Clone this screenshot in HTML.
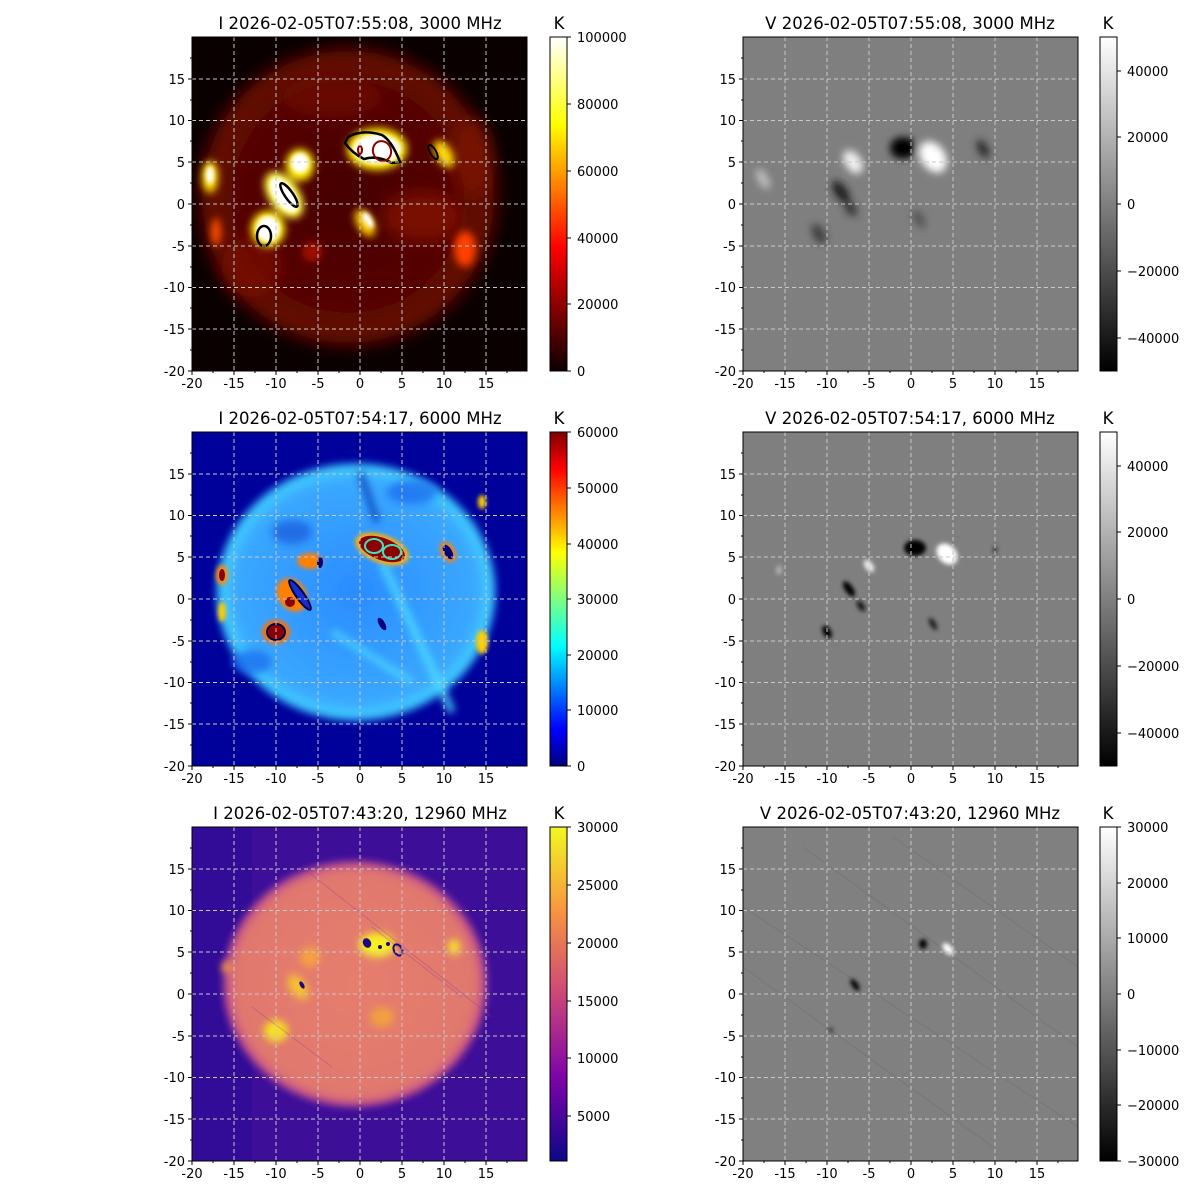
<!DOCTYPE html>
<html><head><meta charset="utf-8"><style>
html,body{margin:0;padding:0;background:#fff;}
svg{display:block;font-family:"DejaVu Sans","Liberation Sans",sans-serif;}
.t{font-size:13px;fill:#000;}
.ti{font-size:16.5px;fill:#000;}
.g line{stroke:#c8c8c8;stroke-width:1;stroke-dasharray:4,3;}
</style></head><body>
<svg width="1200" height="1200" viewBox="0 0 1200 1200" xmlns="http://www.w3.org/2000/svg">
<defs>
<filter id="b2"><feGaussianBlur stdDeviation="2"/></filter>
<filter id="b4"><feGaussianBlur stdDeviation="4"/></filter>
<filter id="b8"><feGaussianBlur stdDeviation="8"/></filter>
<radialGradient id="d1"><stop offset="0" stop-color="#480200"/><stop offset="0.75" stop-color="#560600"/><stop offset="0.95" stop-color="#6a0a00"/><stop offset="1" stop-color="#3a0200"/></radialGradient>
<radialGradient id="d2"><stop offset="0" stop-color="#2a8cff"/><stop offset="0.85" stop-color="#3aa8ff"/><stop offset="0.96" stop-color="#40d0ff"/><stop offset="1" stop-color="#0010c0"/></radialGradient>
<radialGradient id="d3"><stop offset="0" stop-color="#e67e6c"/><stop offset="0.9" stop-color="#e0786e"/><stop offset="0.97" stop-color="#c8508a"/><stop offset="1" stop-color="#3e0c9c"/></radialGradient>
<linearGradient id="cHot" x1="0" y1="1" x2="0" y2="0"><stop offset="0" stop-color="#0b0000"/><stop offset="0.37" stop-color="#ff0000"/><stop offset="0.74" stop-color="#ffff00"/><stop offset="1" stop-color="#ffffff"/></linearGradient>
<linearGradient id="cJet" x1="0" y1="1" x2="0" y2="0"><stop offset="0" stop-color="#00007f"/><stop offset="0.11" stop-color="#0000ff"/><stop offset="0.36" stop-color="#00ffff"/><stop offset="0.5" stop-color="#7fff7f"/><stop offset="0.64" stop-color="#ffff00"/><stop offset="0.89" stop-color="#ff0000"/><stop offset="1" stop-color="#7f0000"/></linearGradient>
<linearGradient id="cPl" x1="0" y1="1" x2="0" y2="0"><stop offset="0" stop-color="#0d0887"/><stop offset="0.25" stop-color="#7e03a8"/><stop offset="0.5" stop-color="#cc4778"/><stop offset="0.75" stop-color="#f89540"/><stop offset="1" stop-color="#f0f921"/></linearGradient>
<linearGradient id="cGr" x1="0" y1="1" x2="0" y2="0"><stop offset="0" stop-color="#000"/><stop offset="1" stop-color="#fff"/></linearGradient>
<g id="grid" class="g">
<line x1="42" y1="0" x2="42" y2="334"/><line x1="84" y1="0" x2="84" y2="334"/><line x1="126" y1="0" x2="126" y2="334"/><line x1="168" y1="0" x2="168" y2="334"/><line x1="210" y1="0" x2="210" y2="334"/><line x1="252" y1="0" x2="252" y2="334"/><line x1="294" y1="0" x2="294" y2="334"/>
<line x1="0" y1="42" x2="335" y2="42"/><line x1="0" y1="83.5" x2="335" y2="83.5"/><line x1="0" y1="125" x2="335" y2="125"/><line x1="0" y1="167" x2="335" y2="167"/><line x1="0" y1="209" x2="335" y2="209"/><line x1="0" y1="250.5" x2="335" y2="250.5"/><line x1="0" y1="292" x2="335" y2="292"/>
</g>
<g id="ax">
<rect x="0" y="0" width="335" height="334" fill="none" stroke="#000" stroke-width="1"/>
<path d="M0 334v4M42 334v4M84 334v4M126 334v4M168 334v4M210 334v4M252 334v4M294 334v4M0 42h-4M0 83.5h-4M0 125h-4M0 167h-4M0 209h-4M0 250.5h-4M0 292h-4M0 334h-4" stroke="#000"/>
<path d="M21 334v2M63 334v2M105 334v2M147 334v2M189 334v2M231 334v2M273 334v2M315 334v2M0 21h-2M0 63h-2M0 104h-2M0 146h-2M0 188h-2M0 230h-2M0 271h-2M0 313h-2" stroke="#000"/>
<g class="t" text-anchor="middle">
<text x="0" y="351">-20</text><text x="42" y="351">-15</text><text x="84" y="351">-10</text><text x="126" y="351">-5</text><text x="168" y="351">0</text><text x="210" y="351">5</text><text x="252" y="351">10</text><text x="294" y="351">15</text>
</g>
<g class="t" text-anchor="end">
<text x="-7" y="47">15</text><text x="-7" y="88">10</text><text x="-7" y="130">5</text><text x="-7" y="172">0</text><text x="-7" y="214">-5</text><text x="-7" y="255">-10</text><text x="-7" y="297">-15</text><text x="-7" y="339">-20</text>
</g>
</g>
</defs>

<!-- ROW 1 I -->
<text class="ti" x="360" y="29" text-anchor="middle">I 2026-02-05T07:55:08, 3000 MHz</text>
<svg x="192" y="37" width="335" height="334">
<rect width="335" height="334" fill="#0a0000"/>
<ellipse cx="156" cy="160" rx="150" ry="150" fill="url(#d1)" filter="url(#b8)"/>
<g filter="url(#b8)" opacity="0.7">
<ellipse cx="230" cy="180" rx="40" ry="25" fill="#8a1400"/>
<ellipse cx="60" cy="230" rx="30" ry="30" fill="#7a1000"/>
<ellipse cx="140" cy="60" rx="50" ry="20" fill="#701000"/>
<ellipse cx="280" cy="120" rx="20" ry="40" fill="#801200"/>
</g>
<g filter="url(#b4)">
<ellipse cx="185" cy="112" rx="30" ry="21" fill="#ffee00"/>
<ellipse cx="252" cy="117" rx="8" ry="15" fill="#ffdd00" transform="rotate(-30 252 117)"/>
<ellipse cx="18" cy="140" rx="8" ry="16" fill="#ffdd00"/>
<ellipse cx="108" cy="128" rx="14" ry="16" fill="#ffee00"/>
<ellipse cx="92" cy="158" rx="15" ry="26" fill="#ffff40" transform="rotate(-35 92 158)"/>
<ellipse cx="76" cy="192" rx="17" ry="18" fill="#ffee00"/>
<ellipse cx="173" cy="186" rx="8" ry="15" fill="#ffcc00" transform="rotate(-30 173 186)"/>
<ellipse cx="24" cy="195" rx="5" ry="14" fill="#ff5000"/>
<ellipse cx="273" cy="212" rx="11" ry="18" fill="#ff4000"/>
<ellipse cx="120" cy="215" rx="10" ry="10" fill="#a01000"/>
</g>
<g filter="url(#b2)">
<ellipse cx="185" cy="112" rx="24" ry="15" fill="#fff"/>
<ellipse cx="108" cy="126" rx="9" ry="10" fill="#fff"/>
<ellipse cx="92" cy="158" rx="10" ry="20" fill="#fff" transform="rotate(-35 92 158)"/>
<ellipse cx="76" cy="192" rx="12" ry="13" fill="#fff"/>
<ellipse cx="176" cy="183" rx="4" ry="9" fill="#fff" transform="rotate(-30 176 183)"/>
<ellipse cx="18" cy="138" rx="4" ry="9" fill="#fff"/>
</g>
<path d="M156 100 Q170 92 190 98 Q200 104 208 125 L200 126 Q185 118 172 122 Q160 116 153 106Z" fill="none" stroke="#000" stroke-width="2.5"/>
<ellipse cx="190" cy="114" rx="9" ry="10" fill="none" stroke="#8b0000" stroke-width="2" transform="rotate(-20 190 114)"/>
<ellipse cx="168" cy="113" rx="2" ry="4" fill="none" stroke="#8b0000" stroke-width="2"/>
<ellipse cx="97" cy="158" rx="4" ry="14" fill="none" stroke="#000" stroke-width="2.5" transform="rotate(-35 97 158)"/>
<ellipse cx="72" cy="199" rx="7" ry="10" fill="none" stroke="#000" stroke-width="2.5"/>
<ellipse cx="241" cy="115" rx="3" ry="8" fill="none" stroke="#000" stroke-width="2" transform="rotate(-30 241 115)"/>
<use href="#grid"/>
</svg>
<use href="#ax" x="192" y="37"/>
<rect x="550" y="37" width="17" height="334" fill="url(#cHot)" stroke="#000"/>
<text class="ti" x="559" y="29" text-anchor="middle">K</text>
<g class="t"><path d="M567 371h4M567 304h4M567 238h4M567 171h4M567 104h4M567 37h4" stroke="#000"/>
<text x="577" y="376">0</text><text x="577" y="309">20000</text><text x="577" y="243">40000</text><text x="577" y="176">60000</text><text x="577" y="109">80000</text><text x="577" y="42">100000</text></g>

<!-- ROW 1 V -->
<text class="ti" x="910" y="29" text-anchor="middle">V 2026-02-05T07:55:08, 3000 MHz</text>
<svg x="743" y="37" width="335" height="334">
<rect width="335" height="334" fill="#7f7f7f"/>
<g filter="url(#b4)">
<ellipse cx="160" cy="111" rx="13" ry="11" fill="#000"/>
<ellipse cx="190" cy="120" rx="12" ry="17" fill="#fff" transform="rotate(-35 190 120)"/>
<ellipse cx="240" cy="112" rx="5" ry="10" fill="#2a2a2a" transform="rotate(-30 240 112)"/>
<ellipse cx="20" cy="142" rx="5" ry="11" fill="#c0c0c0" transform="rotate(-30 20 142)"/>
<ellipse cx="110" cy="125" rx="8" ry="13" fill="#f0f0f0" transform="rotate(-35 110 125)"/>
<ellipse cx="98" cy="155" rx="6" ry="13" fill="#1a1a1a" transform="rotate(-35 98 155)"/>
<ellipse cx="108" cy="172" rx="5" ry="8" fill="#303030" transform="rotate(-35 108 172)"/>
<ellipse cx="76" cy="197" rx="6" ry="11" fill="#404040" transform="rotate(-30 76 197)"/>
<ellipse cx="176" cy="182" rx="5" ry="10" fill="#555" transform="rotate(-30 176 182)"/>
</g>
<use href="#grid"/>
</svg>
<use href="#ax" x="743" y="37"/>
<rect x="1100" y="37" width="17" height="334" fill="url(#cGr)" stroke="#000"/>
<text class="ti" x="1108" y="29" text-anchor="middle">K</text>
<g class="t"><path d="M1117 338h4M1117 271h4M1117 204h4M1117 137h4M1117 71h4" stroke="#000"/>
<text x="1127" y="343">−40000</text><text x="1127" y="276">−20000</text><text x="1127" y="209">0</text><text x="1127" y="142">20000</text><text x="1127" y="76">40000</text></g>

<!-- ROW 2 I -->
<text class="ti" x="360" y="424" text-anchor="middle">I 2026-02-05T07:54:17, 6000 MHz</text>
<svg x="192" y="432" width="335" height="334">
<rect width="335" height="334" fill="#00009a"/>
<ellipse cx="164" cy="160" rx="141" ry="130" fill="url(#d2)" filter="url(#b4)"/>
<g filter="url(#b4)" opacity="0.8">
<path d="M190 130 L260 280" stroke="#50e0ff" stroke-width="8"/>
<path d="M140 200 L220 250" stroke="#50e0ff" stroke-width="6"/>
<ellipse cx="100" cy="100" rx="20" ry="12" fill="#1a60e0"/>
<ellipse cx="220" cy="60" rx="25" ry="12" fill="#1a70f0"/>
<ellipse cx="60" cy="230" rx="20" ry="12" fill="#1a70f0"/>
<path d="M168 40 L185 90" stroke="#0030b0" stroke-width="6"/>
</g>
<g filter="url(#b2)">
<ellipse cx="190" cy="117" rx="28" ry="14" fill="#ffb000" transform="rotate(20 190 117)"/>
<ellipse cx="256" cy="120" rx="7" ry="11" fill="#ff8000" transform="rotate(-30 256 120)"/>
<ellipse cx="118" cy="129" rx="13" ry="8" fill="#ff8000"/>
<ellipse cx="30" cy="143" rx="6" ry="10" fill="#ff9000"/>
<ellipse cx="100" cy="163" rx="14" ry="18" fill="#ff8000" transform="rotate(-35 100 163)"/>
<ellipse cx="84" cy="200" rx="14" ry="12" fill="#ff7000"/>
<ellipse cx="290" cy="210" rx="6" ry="12" fill="#ffd000"/>
<ellipse cx="30" cy="180" rx="4" ry="10" fill="#ffd000"/>
<ellipse cx="290" cy="70" rx="4" ry="7" fill="#ffd000"/>
</g>
<ellipse cx="190" cy="117" rx="24" ry="11" fill="#8b0000" transform="rotate(20 190 117)"/>
<ellipse cx="182" cy="114" rx="9" ry="7" fill="none" stroke="#40e0c0" stroke-width="2"/>
<ellipse cx="200" cy="120" rx="9" ry="7" fill="none" stroke="#40e0c0" stroke-width="2"/>
<ellipse cx="256" cy="120" rx="4" ry="8" fill="#00007a" transform="rotate(-30 256 120)"/>
<ellipse cx="128" cy="130" rx="3" ry="6" fill="#00007a"/>
<ellipse cx="30" cy="143" rx="3" ry="6" fill="#8b0000"/>
<ellipse cx="108" cy="163" rx="4" ry="18" fill="#1530d0" stroke="#00004a" stroke-width="2" transform="rotate(-35 108 163)"/>
<ellipse cx="98" cy="170" rx="5" ry="5" fill="#8b0000"/>
<ellipse cx="84" cy="200" rx="9" ry="8" fill="#8b0000" stroke="#00004a" stroke-width="2"/>
<ellipse cx="190" cy="192" rx="3" ry="7" fill="#00007a" transform="rotate(-30 190 192)"/>
<use href="#grid"/>
</svg>
<use href="#ax" x="192" y="432"/>
<rect x="550" y="432" width="17" height="334" fill="url(#cJet)" stroke="#000"/>
<text class="ti" x="559" y="424" text-anchor="middle">K</text>
<g class="t"><path d="M567 766h4M567 710h4M567 655h4M567 599h4M567 544h4M567 488h4M567 432h4" stroke="#000"/>
<text x="577" y="771">0</text><text x="577" y="715">10000</text><text x="577" y="660">20000</text><text x="577" y="604">30000</text><text x="577" y="549">40000</text><text x="577" y="493">50000</text><text x="577" y="437">60000</text></g>

<!-- ROW 2 V -->
<text class="ti" x="910" y="424" text-anchor="middle">V 2026-02-05T07:54:17, 6000 MHz</text>
<svg x="743" y="432" width="335" height="334">
<rect width="335" height="334" fill="#7f7f7f"/>
<g filter="url(#b2)">
<ellipse cx="172" cy="116" rx="11" ry="8" fill="#000"/>
<ellipse cx="204" cy="122" rx="9" ry="12" fill="#fff" transform="rotate(-45 204 122)"/>
<ellipse cx="126" cy="134" rx="4" ry="7" fill="#eee" transform="rotate(-35 126 134)"/>
<ellipse cx="106" cy="157" rx="4" ry="9" fill="#000" transform="rotate(-35 106 157)"/>
<ellipse cx="118" cy="174" rx="3" ry="6" fill="#111" transform="rotate(-35 118 174)"/>
<ellipse cx="84" cy="200" rx="4" ry="7" fill="#000" transform="rotate(-30 84 200)"/>
<ellipse cx="190" cy="192" rx="3" ry="7" fill="#222" transform="rotate(-30 190 192)"/>
<ellipse cx="252" cy="118" rx="2" ry="4" fill="#333"/>
<ellipse cx="36" cy="138" rx="3" ry="5" fill="#b0b0b0"/>
</g>
<use href="#grid"/>
</svg>
<use href="#ax" x="743" y="432"/>
<rect x="1100" y="432" width="17" height="334" fill="url(#cGr)" stroke="#000"/>
<text class="ti" x="1108" y="424" text-anchor="middle">K</text>
<g class="t"><path d="M1117 733h4M1117 666h4M1117 599h4M1117 532h4M1117 466h4" stroke="#000"/>
<text x="1127" y="738">−40000</text><text x="1127" y="671">−20000</text><text x="1127" y="604">0</text><text x="1127" y="537">20000</text><text x="1127" y="471">40000</text></g>

<!-- ROW 3 I -->
<text class="ti" x="360" y="819" text-anchor="middle">I 2026-02-05T07:43:20, 12960 MHz</text>
<svg x="192" y="827" width="335" height="334">
<rect width="335" height="334" fill="#3d0e98"/>
<rect x="0" y="0" width="60" height="334" fill="#2c0a94" opacity="0.6"/>
<ellipse cx="163" cy="157" rx="133" ry="124" fill="url(#d3)" filter="url(#b4)"/>
<g filter="url(#b4)">
<ellipse cx="185" cy="118" rx="18" ry="12" fill="#f8f020"/>
<ellipse cx="262" cy="120" rx="6" ry="8" fill="#f8e030"/>
<ellipse cx="84" cy="204" rx="12" ry="11" fill="#f8e020"/>
<ellipse cx="106" cy="160" rx="8" ry="14" fill="#f8c030" transform="rotate(-35 106 160)"/>
<ellipse cx="118" cy="130" rx="10" ry="10" fill="#f8a040"/>
<ellipse cx="190" cy="190" rx="12" ry="10" fill="#f0a040"/>
<ellipse cx="35" cy="140" rx="5" ry="6" fill="#f8a040"/>
</g>
<g stroke="#8a3aa0" stroke-width="1" opacity="0.35" fill="none">
<path d="M110 40 L300 190"/><path d="M180 100 L270 170"/><path d="M60 180 L140 240"/>
</g>
<ellipse cx="175" cy="116" rx="4" ry="5" fill="#1a0a80" transform="rotate(-30 175 116)"/>
<ellipse cx="206" cy="123" rx="4" ry="6" fill="none" stroke="#1a0a80" stroke-width="2" transform="rotate(-30 206 123)"/>
<circle cx="188" cy="120" r="2" fill="#1a0a80"/><circle cx="196" cy="117" r="2" fill="#1a0a80"/>
<ellipse cx="110" cy="158" rx="2" ry="4" fill="#1a0a80" transform="rotate(-30 110 158)"/>
<use href="#grid"/>
</svg>
<use href="#ax" x="192" y="827"/>
<rect x="550" y="827" width="17" height="334" fill="url(#cPl)" stroke="#000"/>
<text class="ti" x="559" y="819" text-anchor="middle">K</text>
<g class="t"><path d="M567 1116h4M567 1058h4M567 1001h4M567 943h4M567 885h4M567 827h4" stroke="#000"/>
<text x="577" y="1121">5000</text><text x="577" y="1063">10000</text><text x="577" y="1006">15000</text><text x="577" y="948">20000</text><text x="577" y="890">25000</text><text x="577" y="832">30000</text></g>

<!-- ROW 3 V -->
<text class="ti" x="910" y="819" text-anchor="middle">V 2026-02-05T07:43:20, 12960 MHz</text>
<svg x="743" y="827" width="335" height="334">
<rect width="335" height="334" fill="#808080"/>
<g stroke="#6e6e6e" stroke-width="1" opacity="0.5">
<path d="M0 80 L335 300"/><path d="M0 140 L250 320"/><path d="M60 20 L335 220"/><path d="M150 10 L335 140"/>
</g>
<g filter="url(#b2)">
<ellipse cx="180" cy="117" rx="4" ry="5" fill="#000"/>
<ellipse cx="205" cy="122" rx="4" ry="7" fill="#fff" transform="rotate(-40 205 122)"/>
<ellipse cx="112" cy="158" rx="3" ry="7" fill="#000" transform="rotate(-35 112 158)"/>
<ellipse cx="88" cy="203" rx="2" ry="3" fill="#333"/>
</g>
<use href="#grid"/>
</svg>
<use href="#ax" x="743" y="827"/>
<rect x="1100" y="827" width="17" height="334" fill="url(#cGr)" stroke="#000"/>
<text class="ti" x="1108" y="819" text-anchor="middle">K</text>
<g class="t"><path d="M1117 1161h4M1117 1105h4M1117 1050h4M1117 994h4M1117 938h4M1117 883h4M1117 827h4" stroke="#000"/>
<text x="1127" y="1166">−30000</text><text x="1127" y="1110">−20000</text><text x="1127" y="1055">−10000</text><text x="1127" y="999">0</text><text x="1127" y="943">10000</text><text x="1127" y="888">20000</text><text x="1127" y="832">30000</text></g>
</svg>
</body></html>
